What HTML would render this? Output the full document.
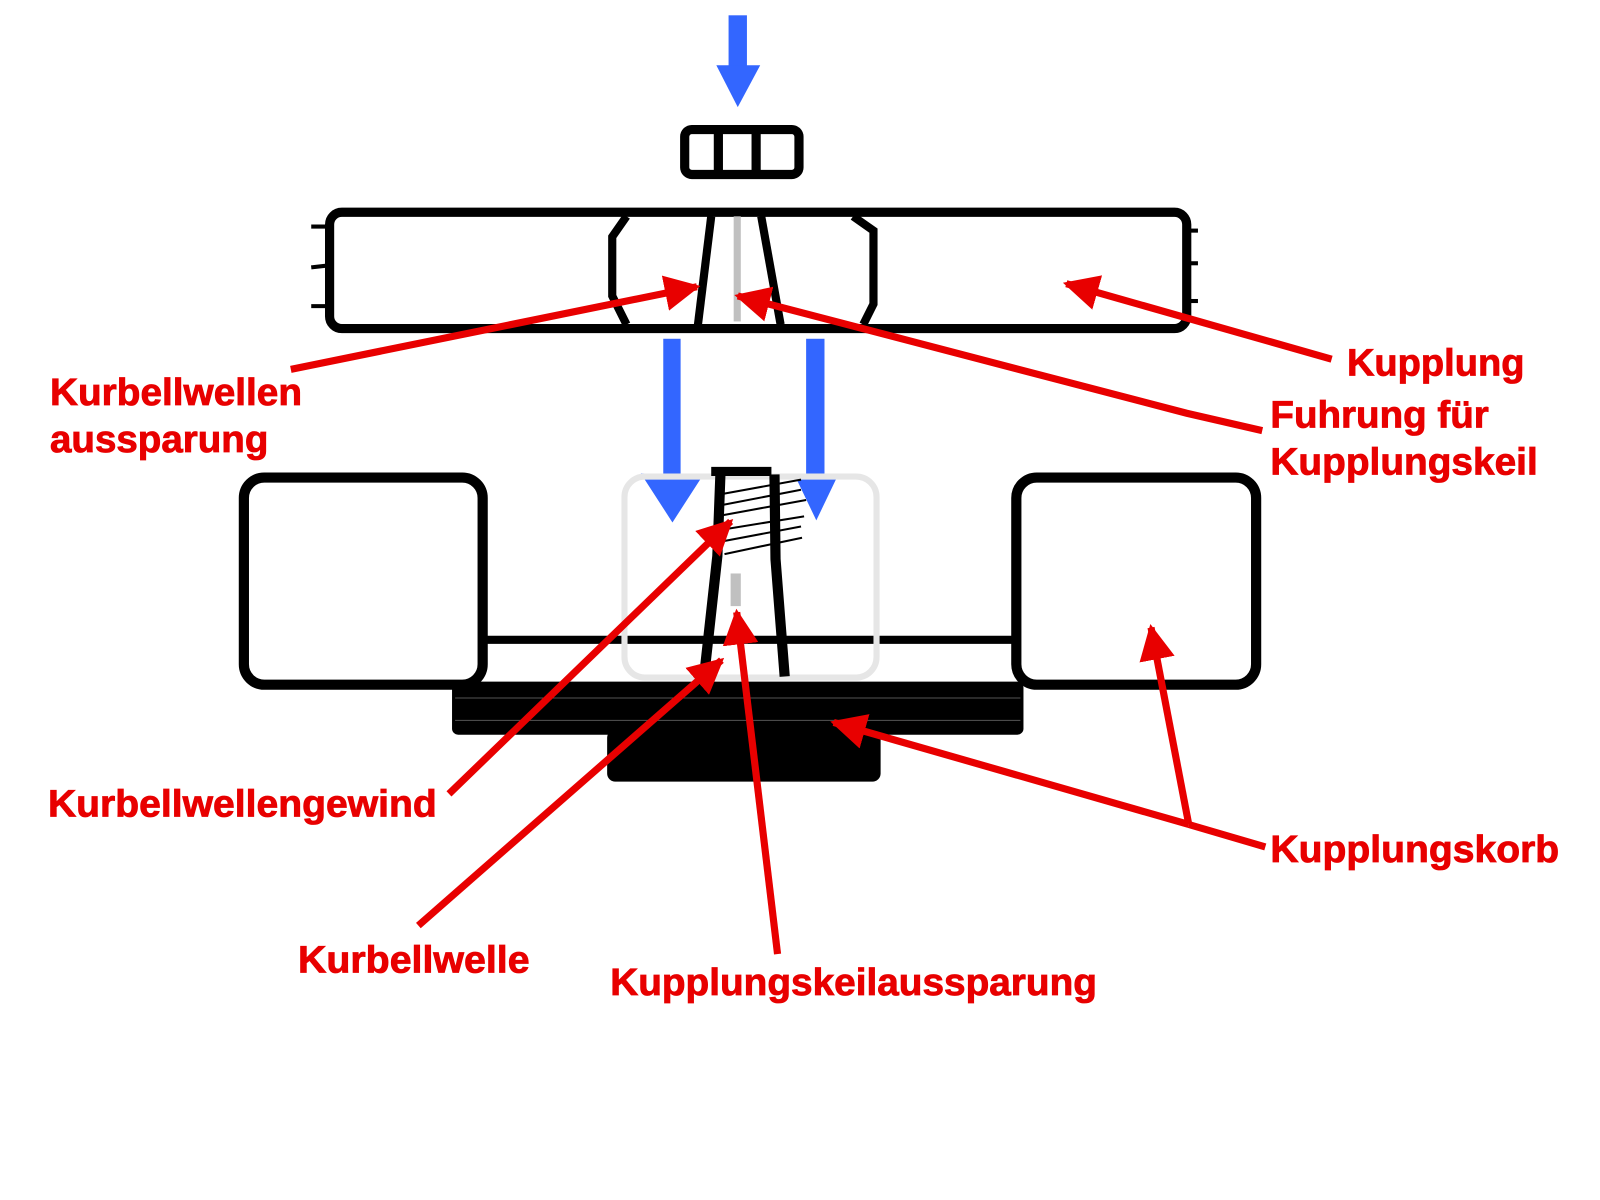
<!DOCTYPE html>
<html><head><meta charset="utf-8"><style>html,body{margin:0;padding:0;background:#fff;}svg{display:block}</style></head><body>
<svg width="1600" height="1200" viewBox="0 0 1568 1176" preserveAspectRatio="none" xmlns="http://www.w3.org/2000/svg">
<defs>
<marker id="ah" viewBox="0 0 10 10" refX="9" refY="5" markerWidth="5" markerHeight="5" orient="auto" markerUnits="strokeWidth"><path d="M0,0 L10,5 L0,10 z" fill="#e80000"/></marker>
</defs>
<rect width="1568" height="1176" fill="#fff"/>
<rect x="714" y="15" width="18" height="52" fill="#3366ff"/>
<polygon points="702,64 745,64 723,105" fill="#3366ff"/>
<rect x="671" y="127" width="112" height="44" rx="7" fill="none" stroke="#000" stroke-width="9"/>
<line x1="704" y1="127" x2="704" y2="171" stroke="#000" stroke-width="9"/>
<line x1="741" y1="127" x2="741" y2="171" stroke="#000" stroke-width="9"/>
<rect x="323" y="208" width="840" height="114" rx="12" fill="none" stroke="#000" stroke-width="9"/>
<g stroke="#000" stroke-width="4">
<line x1="305" y1="222" x2="323" y2="222"/><line x1="305" y1="262" x2="323" y2="260"/><line x1="305" y1="300" x2="323" y2="300"/>
<line x1="1163" y1="226" x2="1174" y2="226"/><line x1="1163" y1="258" x2="1174" y2="258"/><line x1="1163" y1="295" x2="1174" y2="295"/>
</g>
<g stroke="#000" stroke-width="8" fill="none">
<polyline points="614,212 600,232 600,290 614,318"/>
<polyline points="836,212 856,226 856,298 846,318"/>
<line x1="697" y1="212" x2="684" y2="318"/>
<line x1="746" y1="212" x2="765" y2="318"/>
</g>
<rect x="719" y="212" width="7" height="103" fill="#c0c0c0"/>
<rect x="650" y="332" width="17" height="135" fill="#3366ff"/>
<polygon points="628,464 690,464 659,512" fill="#3366ff"/>
<rect x="790" y="332" width="18" height="135" fill="#3366ff"/>
<polygon points="778,464 822,464 800,510" fill="#3366ff"/>
<rect x="239" y="468" width="234" height="203" rx="20" fill="none" stroke="#000" stroke-width="10"/>
<rect x="996" y="468" width="235" height="203" rx="20" fill="none" stroke="#000" stroke-width="10"/>
<line x1="473" y1="627" x2="996" y2="627" stroke="#000" stroke-width="8"/>
<rect x="612" y="467" width="247" height="197" rx="20" fill="none" stroke="#e6e6e6" stroke-width="6"/>
<rect x="443" y="668" width="560" height="52" rx="6" fill="#000"/>
<line x1="446" y1="684" x2="1000" y2="684" stroke="#555" stroke-width="1"/>
<line x1="446" y1="706" x2="1000" y2="706" stroke="#555" stroke-width="1"/>
<rect x="595" y="715" width="268" height="51" rx="8" fill="#000"/>
<line x1="697" y1="462" x2="756" y2="462" stroke="#000" stroke-width="9"/>
<g stroke="#000" stroke-width="10" fill="none">
<polyline points="706,465 703,545 690,663"/>
<polyline points="759,465 760,548 769,663"/>
</g>
<g stroke="#000" stroke-width="2">
<line x1="703" y1="485" x2="785" y2="470"/><line x1="702" y1="496" x2="785" y2="480"/>
<line x1="702" y1="506" x2="790" y2="490"/><line x1="702" y1="520" x2="788" y2="506"/>
<line x1="700" y1="532" x2="785" y2="516"/><line x1="710" y1="543" x2="786" y2="527"/>
</g>
<rect x="716" y="562" width="10" height="32" fill="#c0c0c0"/>
<g stroke="#e80000" stroke-width="7" fill="none">
<line x1="285" y1="362" x2="683" y2="281" marker-end="url(#ah)"/>
<polyline points="1237,422 1163,405 723,290" marker-end="url(#ah)"/>
<line x1="1305" y1="352" x2="1045" y2="278" marker-end="url(#ah)"/>
<line x1="440" y1="778" x2="716" y2="511" marker-end="url(#ah)"/>
<line x1="410" y1="907" x2="707" y2="647" marker-end="url(#ah)"/>
<line x1="762" y1="935" x2="722" y2="600" marker-end="url(#ah)"/>
<line x1="1240" y1="830" x2="1165" y2="808"/>
<line x1="1165" y1="808" x2="817" y2="708" marker-end="url(#ah)"/>
<line x1="1165" y1="808" x2="1128" y2="615" marker-end="url(#ah)"/>
</g>
<g fill="#e80000" stroke="#e80000" stroke-width="0.8" font-family="Liberation Sans, Arial, sans-serif" font-weight="bold" font-size="37">
<text x="49" y="397" textLength="247" lengthAdjust="spacingAndGlyphs">Kurbellwellen</text>
<text x="49" y="443" textLength="214" lengthAdjust="spacingAndGlyphs">aussparung</text>
<text x="1320" y="368" textLength="174" lengthAdjust="spacingAndGlyphs">Kupplung</text>
<text x="1245" y="419" textLength="214" lengthAdjust="spacingAndGlyphs">Fuhrung für</text>
<text x="1245" y="465" textLength="262" lengthAdjust="spacingAndGlyphs">Kupplungskeil</text>
<text x="47" y="800" textLength="381" lengthAdjust="spacingAndGlyphs">Kurbellwellengewind</text>
<text x="1245" y="845" textLength="283" lengthAdjust="spacingAndGlyphs">Kupplungskorb</text>
<text x="292" y="953" textLength="227" lengthAdjust="spacingAndGlyphs">Kurbellwelle</text>
<text x="598" y="975" textLength="477" lengthAdjust="spacingAndGlyphs">Kupplungskeilaussparung</text>
</g>
</svg>
</body></html>
